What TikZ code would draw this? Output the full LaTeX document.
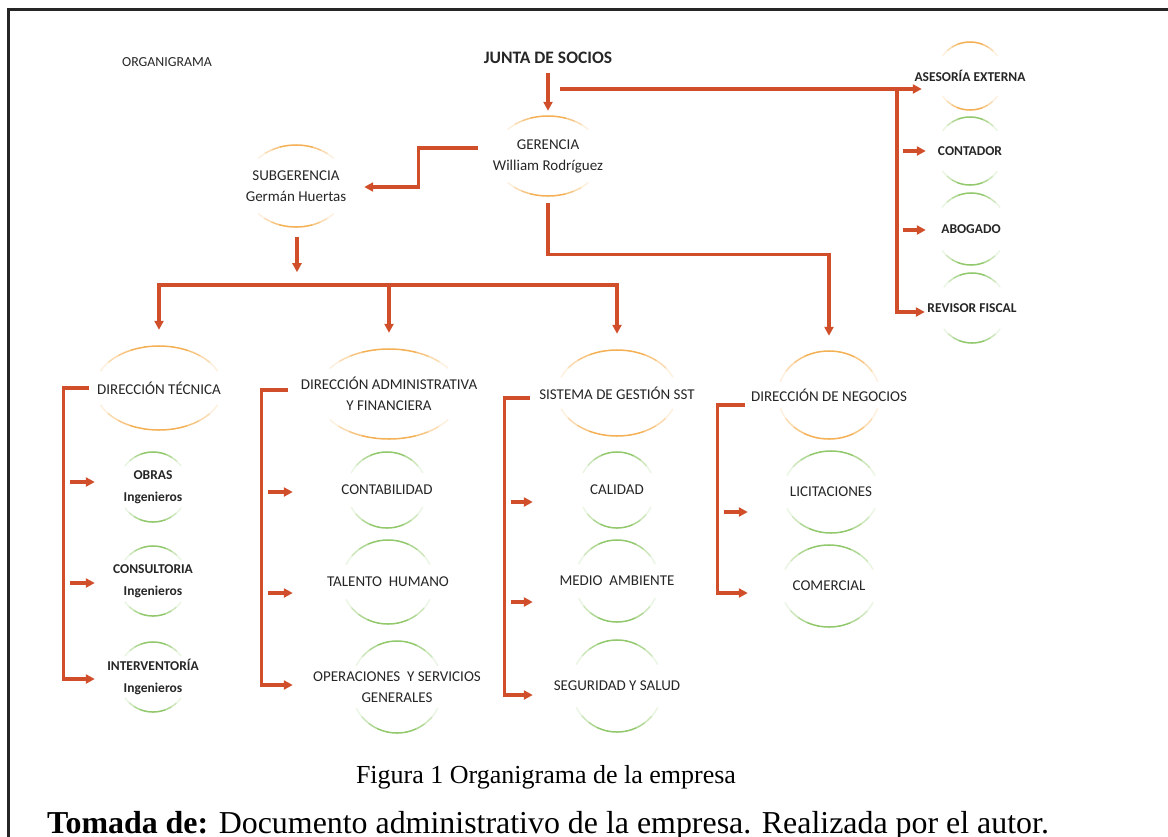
\documentclass[tikz,border=0pt]{standalone}
\usepackage{fontspec}
\setmainfont{Carlito}
\newfontfamily\capfont{Liberation Serif}
\usetikzlibrary{arrows.meta,shapes.geometric,calc}

\definecolor{conn}{RGB}{208,78,42}
\definecolor{arcor}{RGB}{244,176,84}
\definecolor{arcgr}{RGB}{146,200,108}
\definecolor{ink}{RGB}{38,38,38}

\tikzset{
  link/.style={draw=conn, line width=3.3pt},
  linkarrow/.style={link, -{Triangle[length=9pt,width=9pt]}},
  hub/.style={ellipse, inner sep=0pt, draw=none},
  lbl/.style={text=ink, align=center, inner sep=0pt, font=\fontsize{15}{21}\selectfont},
  lblb/.style={text=ink, align=center, inner sep=0pt, font=\bfseries\fontsize{13.5}{22}\selectfont},
}

% arc of an ellipse whose colour fades to white towards both ends
% #1 cx, #2 cy, #3 rx, #4 ry, #5 start angle, #6 end angle, #7 colour
\newcommand\fadearc[7]{%
  \foreach \k in {0,...,9}{%
    \pgfmathsetmacro\ta{(#5)+((#6)-(#5))*\k/10}%
    \pgfmathsetmacro\tb{(#5)+((#6)-(#5))*(\k+1)/10}%
    \pgfmathtruncatemacro\mix{100-max(0,abs(\k-4.5)-1.5)*27}%
    \draw[#7!\mix!white, line width=1.5pt, line cap=round]
      plot[domain=\ta:\tb, samples=5] ({#1+#3*cos(\x)},{#2-#4*sin(\x)});%
  }}

% one unit of the chart: invisible ellipse node, its label, top and bottom arcs
% #1 name, #2 cx, #3 cy, #4 rx, #5 ry, #6 arc gap angle, #7 colour, #8 label style, #9 label
\newcommand\unit[9]{%
  \node[hub, minimum width={2*#4pt}, minimum height={2*#5pt}] (#1) at (#2,#3) {};
  \node[#8] (#1-t) at (#2,#3) {#9};
  \fadearc{#2}{#3}{#4}{#5}{#6}{180-#6}{#7}
  \fadearc{#2}{#3}{#4}{#5}{180+#6}{360-#6}{#7}
}

\begin{document}
\begin{tikzpicture}[x=1pt,y=-1pt]
\useasboundingbox (0,0) rectangle (1168,836);

% page frame
\draw[line width=3pt, black!85] (8,845) -- (8,9) -- (1175,9);

% titles
\node[text=ink, inner sep=0pt, font=\fontsize{13.8}{16}\selectfont] (title) at (167,62) {ORGANIGRAMA};
\node[text=ink, inner sep=0pt, font=\bfseries\fontsize{17.5}{20}\selectfont] (junta) at (548,58) {JUNTA DE SOCIOS};

% management
\unit{ger}{548}{156}{54}{40}{42}{arcor}{lbl}{GERENCIA\\William Rodríguez}
\unit{sub}{296}{186}{51}{41}{43}{arcor}{lbl}{SUBGERENCIA\\Germán Huertas}

% external advisers
\unit{ases}{970}{76}{34}{34}{37}{arcor}{lblb}{ASESORÍA EXTERNA}
\unit{contador}{970}{151}{34}{34}{37}{arcgr}{lblb}{CONTADOR}
\unit{abogado}{971}{229}{36}{36}{37}{arcgr}{lblb}{ABOGADO}
\unit{revisor}{972}{308}{35}{35}{37}{arcgr}{lblb}{REVISOR FISCAL}

% directions
\unit{dt}{159}{388}{64}{42}{24}{arcor}{lbl}{DIRECCIÓN TÉCNICA}
\unit{daf}{389}{394}{72}{45}{35}{arcor}{lbl}{DIRECCIÓN ADMINISTRATIVA\\Y FINANCIERA}
\unit{sst}{617}{393}{60}{43}{22}{arcor}{lbl}{SISTEMA DE GESTIÓN SST}
\unit{dn}{829}{395}{51}{44}{18}{arcor}{lbl}{DIRECCIÓN DE NEGOCIOS}

% areas
\unit{obras}{153}{487}{35}{35}{37}{arcgr}{lblb}{OBRAS\\Ingenieros}
\unit{cons}{153}{581}{35}{35}{37}{arcgr}{lblb}{CONSULTORIA\\Ingenieros}
\unit{interv}{153}{677}{35}{35}{37}{arcgr}{lblb}{INTERVENTORÍA\\Ingenieros}

\unit{cont}{387}{490}{40}{38}{27}{arcgr}{lbl}{CONTABILIDAD}
\unit{tal}{388}{582}{46}{42}{25}{arcgr}{lbl}{TALENTO~~HUMANO}
\unit{oper}{397}{687}{46}{46}{28}{arcgr}{lbl}{OPERACIONES~~Y SERVICIOS\\GENERALES}

\unit{cal}{617}{490}{38}{38}{27}{arcgr}{lbl}{CALIDAD}
\unit{medio}{617}{581}{42}{41}{25}{arcgr}{lbl}{MEDIO~~AMBIENTE}
\unit{seg}{617}{686}{46}{46}{28}{arcgr}{lbl}{SEGURIDAD Y SALUD}

\unit{lic}{831}{492}{48}{41}{24}{arcgr}{lbl}{LICITACIONES}
\unit{com}{829}{586}{48}{41}{24}{arcgr}{lbl}{COMERCIAL}

% connectors from the partners
\draw[linkarrow] ($(junta.south)+(0,9)$) -- ($(ger.north)+(0,-5)$);
\coordinate (jr) at (560,89);
\coordinate (rs) at (897,89);
\draw[linkarrow] (jr) -- ($(jr -| ases.west)+(-14,0)$);
\draw[linkarrow] (rs) |- ($(revisor.west)+(-12,4)$);
\draw[linkarrow] ($(contador.west)+(-33,0)$) -- ($(contador.west)+(-10,0)$);
\draw[linkarrow] ($(abogado.west)+(-32,1)$) -- ($(abogado.west)+(-9,1)$);

% management connectors
\draw[linkarrow] ($(ger.west)+(-16,-8)$) -- ++(-59,0) |- ($(sub.east)+(17,1)$);
\draw[linkarrow] ($(ger.south)+(0,7)$) -- ++(0,51) -| ($(dn.north)+(0,-15)$);
\draw[linkarrow] ($(sub.south)+(1,10)$) -- ++(0,35);

% distribution bar under the subgerencia
\coordinate (bar) at (0,285);
\draw[link, line cap=rect] (bar -| dt.north) -- (bar -| sst.north);
\foreach \n in {dt,daf,sst}
  \draw[linkarrow] (bar -| \n.north) -- ($(\n.north)+(0,-16)$);

% brackets of each direction
\draw[linkarrow] ($(dt.west)+(-6,0)$) -- ++(-25,0) |- ($(interv.west)+(-23,2)$);
\draw[linkarrow] ($(obras.west)+(-48,-5)$) -- ($(obras.west)+(-23,-5)$);
\draw[linkarrow] ($(cons.west)+(-48,2)$) -- ($(cons.west)+(-23,2)$);

\draw[linkarrow] ($(daf.west)+(-29,-4)$) -- ++(-26,0) |- ($(oper.west)+(-58,-2)$);
\draw[linkarrow] ($(cont.west)+(-79,2)$) -- ($(cont.west)+(-54,2)$);
\draw[linkarrow] ($(tal.west)+(-74,11)$) -- ($(tal.west)+(-49,11)$);

\draw[linkarrow] ($(sst.west)+(-27,5)$) -- ++(-25,0) |- ($(seg.west)+(-38,9)$);
\draw[linkarrow] ($(cal.west)+(-68,12)$) -- ($(cal.west)+(-46,12)$);
\draw[linkarrow] ($(medio.west)+(-64,21)$) -- ($(medio.west)+(-42,21)$);

\draw[linkarrow] ($(dn.west)+(-33,10)$) -- ++(-27,0) |- ($(com.west)+(-33,7)$);
\draw[linkarrow] ($(lic.west)+(-59,20)$) -- ($(lic.west)+(-35,20)$);

% caption and source
\node[font=\capfont\fontsize{26}{30}\selectfont, anchor=base, inner sep=0pt] (cap) at (546,783) {Figura 1 Organigrama de la empresa};
\node[font=\capfont\fontsize{31.9}{36}\selectfont, anchor=base west, inner sep=0pt] (src) at (47,833) {\textbf{Tomada de:} Documento administrativo de la empresa. Realizada por el autor.};
\end{tikzpicture}
\end{document}
